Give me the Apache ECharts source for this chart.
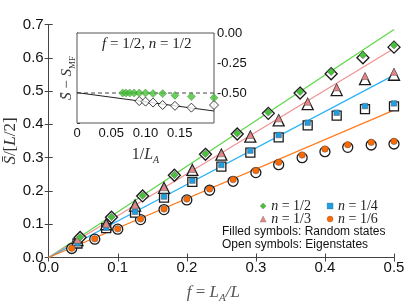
<!DOCTYPE html>
<html><head><meta charset="utf-8">
<script src="https://cdn.jsdelivr.net/npm/echarts@6/dist/echarts.min.js"></script>
<style>html,body{margin:0;padding:0;background:#fff}#c{width:407px;height:305px}</style>
</head><body><div id="c"></div><script>
// ---- main panel data ----
const fHalf = [0.0455,0.0909,0.136,0.182,0.227,0.273,0.318,0.364,0.409,0.455,0.5];
const randHalf = [0.061,0.122,0.186,0.248,0.312,0.373,0.436,0.498,0.558,0.608,0.638];
const eigHalf  = [0.060,0.121,0.185,0.247,0.310,0.371,0.433,0.494,0.552,0.600,0.632];

const fThird = [0.0417,0.0833,0.125,0.167,0.208,0.25,0.292,0.333,0.375,0.417,0.458,0.5];
const randThird = [0.053,0.101,0.158,0.211,0.266,0.313,0.368,0.418,0.468,0.511,0.545,0.558];
const eigThird  = [0.052,0.100,0.156,0.209,0.263,0.309,0.363,0.412,0.461,0.503,0.536,0.549];

const fQuarter = [0.0417,0.0833,0.125,0.167,0.208,0.25,0.292,0.333,0.375,0.417,0.458,0.5];
const randQuarter = [0.043,0.0895,0.1375,0.183,0.231,0.278,0.321,0.368,0.405,0.435,0.455,0.463];
const eigQuarter  = [0.042,0.088,0.135,0.180,0.227,0.273,0.315,0.361,0.397,0.426,0.446,0.454];

const fSixth = [0.0333,0.0667,0.1,0.133,0.167,0.2,0.233,0.267,0.3,0.333,0.367,0.4,0.433,0.467,0.5];
const randSixth = [0.028,0.056,0.086,0.116,0.146,0.176,0.206,0.234,0.261,0.286,0.308,0.326,0.339,0.346,0.349];
const eigSixth  = [0.027,0.055,0.085,0.114,0.144,0.173,0.202,0.229,0.255,0.279,0.300,0.318,0.331,0.338,0.341];

const fitHalf = [[0,0],[0.5,0.685]];
const fitThird = [[0,0],[0.5,0.628]];
const fitQuarter = [[0,0],[0.5,0.548]];
const fitSixth = [[0,0],[0.5,0.443]];

// ---- inset data ----
const insetRandX = [0.0667,0.0714,0.0769,0.0833,0.0909,0.1,0.111,0.125,0.143,0.167,0.2];
const insetRand  = [-0.50,-0.50,-0.50,-0.50,-0.50,-0.50,-0.505,-0.505,-0.52,-0.53,-0.54];
const insetEigX = [0.0909,0.1,0.111,0.125,0.143,0.167,0.2];
const insetEig  = [-0.567,-0.572,-0.58,-0.60,-0.607,-0.622,-0.60];
const insetFitEig = [[0,-0.497],[0.2,-0.65]];
const insetFitRand = [[0,-0.5],[0.2,-0.5]];

const mainXTicks = ['0.0','0.1','0.2','0.3','0.4','0.5'];
const mainYTicks = ['0.0','0.1','0.2','0.3','0.4','0.5','0.6','0.7'];
const insetXTicks = ['0','0.05','0.10','0.15',''];
const insetYTicks = ['0.00','-0.25','-0.50',''];

const C = {green:'#47c23a', pink:'#e88585', blue:'#1c9fe3', orange:'#ff6a00'};
const L = {green:'#5fd64c', pink:'#f29292', blue:'#2bb1f7', orange:'#ff7a1a'};

const zip = (xs, ys) => xs.map((x,i)=>[x, ys[i]]);
const SERIF = 'Liberation Serif';
const SANS = 'Liberation Sans';
const axLine = '#444';

function fitLine(data, color){
  return {type:'line', xAxisIndex:0, yAxisIndex:0, data, symbol:'none', silent:true,
    lineStyle:{color, width:1.3}, z:2};
}
function openS(name, sym, size, xs, ys){
  return {type:'scatter', name:name+'_open', xAxisIndex:0, yAxisIndex:0, data:zip(xs,ys), symbol:sym, symbolSize:size,
    itemStyle:{color:'#ffffff', borderColor:'#1a1a1a', borderWidth:1.3, opacity:1}, z:3};
}
function fillS(name, sym, size, xs, ys, color){
  return {type:'scatter', name, xAxisIndex:0, yAxisIndex:0, data:zip(xs,ys), symbol:sym, symbolSize:size,
    itemStyle:{color, borderColor:'#555', borderWidth:0.5, opacity:1}, z:4};
}

const legendRich = {i:{fontFamily:SERIF, fontStyle:'italic', fontSize:14, color:'#222'}, r:{fontFamily:SERIF, fontSize:14, color:'#222'}};
const legendFmt = name => '{i|n}{r| = ' + name.split('=')[1] + '}';
const legendItemStyle = {borderWidth:0.3, borderColor:'#555'};

const chart = echarts.init(document.getElementById('c'), null, {renderer:'canvas'});
chart.setOption({
  animation:false,
  backgroundColor:'#fff',
  grid:[
    {left:48.7, right:13, top:24.5, bottom:47.5, show:false, containLabel:false, outerBoundsMode:'none'},
    {left:77, top:33, width:137, height:90, show:true, backgroundColor:'#fff', borderColor:'#555', borderWidth:1, z:5,
     containLabel:false, outerBoundsMode:'none'}
  ],
  xAxis:[
    {gridIndex:0, type:'value', min:0, max:0.5, interval:0.1,
     axisLine:{lineStyle:{color:axLine, width:1}}, axisTick:{inside:true, length:4, lineStyle:{color:axLine}},
     splitLine:{show:false},
     axisLabel:{margin:3, fontFamily:SANS, fontSize:15, color:'#111', formatter:(v,i)=>mainXTicks[i]},
     name:'{i|f}{r| = }{i|L}{s|A}{i|/L}', nameLocation:'middle', nameGap:24, nameMoveOverlap:false,
     nameTextStyle:{padding:[0,16,0,0], rich:{i:{fontFamily:SERIF, fontStyle:'italic', fontSize:17, color:'#555', lineHeight:22},
       r:{fontFamily:SERIF, fontSize:17, color:'#555', lineHeight:22},
       s:{fontFamily:SERIF, fontStyle:'italic', fontSize:11, color:'#555', lineHeight:12, verticalAlign:'bottom'}}}},
    {gridIndex:0, type:'value', position:'top', min:0, max:0.5, interval:0.1,
     axisLine:{lineStyle:{color:axLine}}, axisTick:{inside:true, length:4, lineStyle:{color:axLine}},
     axisLabel:{show:false}, splitLine:{show:false}},
    {gridIndex:1, type:'value', min:0, max:0.2, interval:0.05,
     axisLine:{lineStyle:{color:'#555'}}, axisTick:{show:false}, splitLine:{show:false},
     axisLabel:{margin:4, fontFamily:SANS, fontSize:13, color:'#111', formatter:(v,i)=>insetXTicks[i]},
     name:'{r|1/}{i|L}{s|A}', nameLocation:'middle', nameGap:22, nameMoveOverlap:false,
     nameTextStyle:{rich:{i:{fontFamily:SERIF, fontStyle:'italic', fontSize:16, color:'#333', lineHeight:20},
       r:{fontFamily:SERIF, fontSize:16, color:'#333', lineHeight:20},
       s:{fontFamily:SERIF, fontStyle:'italic', fontSize:10, color:'#333', lineHeight:10, verticalAlign:'bottom'}}}}
  ],
  yAxis:[
    {gridIndex:0, type:'value', min:0, max:0.7, interval:0.1,
     axisLine:{show:true, lineStyle:{color:axLine}}, axisTick:{show:true, inside:true, length:4, lineStyle:{color:axLine}},
     splitLine:{show:false},
     axisLabel:{margin:5, fontFamily:SANS, fontSize:15, color:'#111', formatter:(v,i)=>mainYTicks[i]},
     name:'{i|S\u0304}{r|/[}{i|L}{r|/2]}', nameLocation:'middle', nameGap:30, nameRotate:90, nameMoveOverlap:false,
     nameTextStyle:{rich:{i:{fontFamily:SERIF, fontStyle:'italic', fontSize:17, color:'#333'},
       r:{fontFamily:SERIF, fontSize:17, color:'#333'}}}},
    {gridIndex:0, type:'value', position:'right', min:0, max:0.7, interval:0.1,
     axisLine:{show:true, lineStyle:{color:axLine}}, axisTick:{show:true, inside:true, length:4, lineStyle:{color:axLine}},
     axisLabel:{show:false}, splitLine:{show:false}},
    {gridIndex:1, type:'value', position:'right', min:-0.75, max:0, interval:0.25,
     axisLine:{show:true, lineStyle:{color:'#555'}}, axisTick:{show:true, length:3, lineStyle:{color:'#333'}},
     splitLine:{show:false},
     axisLabel:{margin:3, fontFamily:SANS, fontSize:13, color:'#111', formatter:v=>{
        const idx = Math.round(-v/0.25); return insetYTicks[idx] || '';}}},
    {gridIndex:1, type:'value', position:'left', min:-0.75, max:0, interval:0.25,
     axisLine:{show:true, lineStyle:{color:'#555'}}, axisTick:{show:false}, axisLabel:{show:false}, splitLine:{show:false},
     name:'{i|S\u0304}{r| \u2212 }{i|S}{s|MF}', nameLocation:'middle', nameGap:0, nameRotate:90, nameMoveOverlap:false,
     nameTextStyle:{rich:{i:{fontFamily:SERIF, fontStyle:'italic', fontSize:15, color:'#333', lineHeight:20},
       r:{fontFamily:SERIF, fontSize:15, color:'#333', lineHeight:20},
       s:{fontFamily:SERIF, fontSize:9, color:'#333', lineHeight:10, verticalAlign:'bottom'}}}}
  ],
  legend:[
    {data:['n=1/2','n=1/4'], left:255, top:194, orient:'horizontal', itemWidth:6, itemHeight:6, itemGap:16,
     itemStyle:legendItemStyle, formatter:legendFmt, textStyle:{rich:legendRich}, selectedMode:false},
    {data:['n=1/3','n=1/6'], left:255, top:207, orient:'horizontal', itemWidth:6, itemHeight:6, itemGap:16,
     itemStyle:legendItemStyle, formatter:legendFmt, textStyle:{rich:legendRich}, selectedMode:false}
  ],
  graphic:[
    {type:'text', left:222, top:226, z:10, style:{text:'Filled symbols: Random states', font:'12px "Liberation Sans"', fill:'#111'}},
    {type:'text', left:222, top:239, z:10, style:{text:'Open symbols: Eigenstates', font:'12px "Liberation Sans"', fill:'#111'}},
    {type:'text', left:102, top:37, z:10, style:{
      text:'{i|f}{r| = 1/2, }{i|n}{r| = 1/2}',
      rich:{i:{fontFamily:SERIF, fontStyle:'italic', fontSize:15, fill:'#222'}, r:{fontFamily:SERIF, fontSize:15, fill:'#222'}}}}
  ],
  series:[
    fitLine(fitHalf, L.green), fitLine(fitThird, L.pink), fitLine(fitQuarter, L.blue), fitLine(fitSixth, L.orange),
    openS('n=1/6','circle',10,fSixth,eigSixth), fillS('n=1/6','circle',6.5,fSixth,randSixth,C.orange),
    openS('n=1/4','rect',9,fQuarter,eigQuarter), fillS('n=1/4','rect',5.5,fQuarter,randQuarter,C.blue),
    openS('n=1/3','triangle',11,fThird,eigThird), fillS('n=1/3','triangle',7,fThird,randThird,C.pink),
    openS('n=1/2','diamond',12,fHalf,eigHalf), fillS('n=1/2','diamond',7.5,fHalf,randHalf,C.green),
    // inset
    {type:'line', xAxisIndex:2, yAxisIndex:2, data:insetFitRand, symbol:'none', silent:true,
     lineStyle:{color:'#444', width:1, type:[4,3]}, z:6},
    {type:'line', xAxisIndex:2, yAxisIndex:2, data:insetFitEig, symbol:'none', silent:true,
     lineStyle:{color:'#222', width:1}, z:6},
    {type:'scatter', xAxisIndex:2, yAxisIndex:2, data:zip(insetEigX, insetEig), symbol:'diamond', symbolSize:9,
     itemStyle:{color:'#fff', borderColor:'#111', borderWidth:1}, z:7, clip:true},
    {type:'scatter', xAxisIndex:2, yAxisIndex:2, data:zip(insetRandX, insetRand), symbol:'diamond', symbolSize:8,
     itemStyle:{color:C.green, borderColor:'#2a7a22', borderWidth:0.5}, z:7, clip:true}
  ]
});
</script></body></html>
